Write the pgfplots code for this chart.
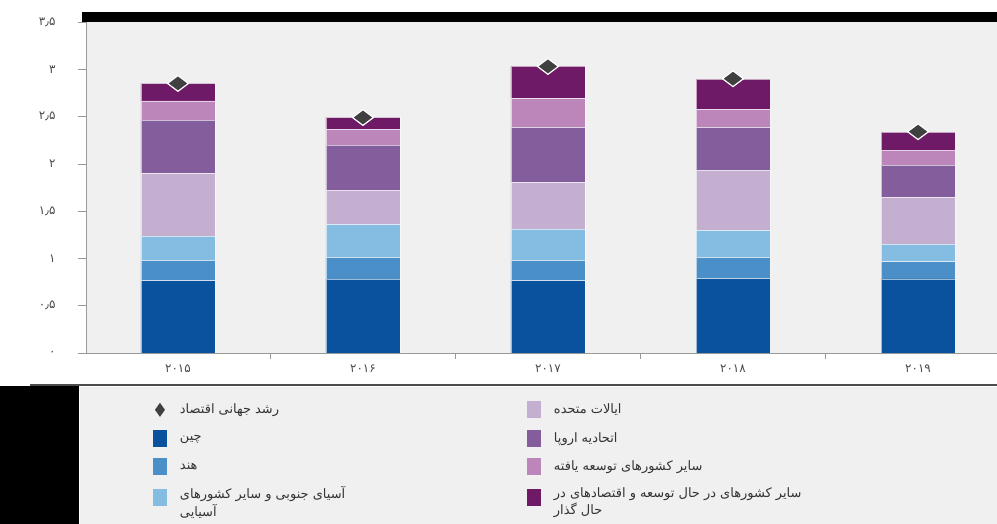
\documentclass[border=0pt]{standalone}
\usepackage{fontspec}
\usepackage{pgfplots}
\usepackage{pgfplotstable}
\pgfplotsset{compat=1.18}
\newfontfamily\arabicfont[Script=Arabic]{DejaVu Sans}
\TeXXeTstate=1

\definecolor{cChina}{HTML}{0A529E}
\definecolor{cIndia}{HTML}{4A8FC8}
\definecolor{cSAsia}{HTML}{85BCE2}
\definecolor{cUS}{HTML}{C4AFD0}
\definecolor{cEU}{HTML}{845E9C}
\definecolor{cOD}{HTML}{BC86BB}
\definecolor{cEMDE}{HTML}{6F1A66}
\definecolor{cDia}{HTML}{404040}
\definecolor{cBg}{HTML}{F0F0F0}

\pgfplotstableread{
x china india sasia us eu od emde world
0 0.764 0.216 0.257 0.663 0.563 0.204 0.184 2.85
1 0.782 0.230 0.348 0.363 0.476 0.166 0.127 2.49
2 0.764 0.216 0.331 0.493 0.582 0.306 0.342 3.03
3 0.790 0.222 0.285 0.637 0.452 0.190 0.320 2.90
4 0.785 0.180 0.187 0.494 0.341 0.159 0.190 2.34
}\data

\pgfplotsset{
  legsq/.style={legend image code/.code={\fill[fill=#1, draw=none] (0bp,-8.5bp) rectangle (14bp,8.5bp);}},
  seg/.style={fill=#1, draw=white, draw opacity=0.6, line width=0.5bp, legsq=#1},
  common/.style={
    scale only axis, width=911bp, height=331bp,
    at={(86bp,171bp)}, anchor=south west,
    xmin=-0.497, xmax=4.427, ymin=0, ymax=3.5,
  }
}

\begin{document}
\begin{tikzpicture}[x=1bp,y=1bp]
\useasboundingbox (0,0) rectangle (997,524);
\fill[white] (0,0) rectangle (997,524);
\fill[cBg] (80,0) rectangle (997,137);
\fill[black] (0,0) rectangle (79,138);
\draw[black!70, line width=2bp] (30,139) -- (997,139);
\fill[black] (82,502) rectangle (997,512);

\begin{axis}[common,
  ybar stacked, bar width=74bp,
  axis background/.style={fill=cBg},
  axis x line*=bottom, axis y line*=left,
  x axis line style={-, draw=black!40, line width=0.8bp},
  y axis line style={-, draw=black!40, line width=0.8bp},
  ytick={0,0.5,1,1.5,2,2.5,3,3.5},
  yticklabels={۰,۰٫۵,۱,۱٫۵,۲,۲٫۵,۳,۳٫۵},
  xtick={0,1,2,3,4},
  xticklabels={۲۰۱۵,۲۰۱۶,۲۰۱۷,۲۰۱۸,۲۰۱۹},
  minor xtick={0.5,1.5,2.5,3.5},
  tick align=outside, major tick length=8bp, minor tick length=6bp,
  tick style={black!40, line width=0.6bp},
  major x tick style={draw=none},
  ticklabel style={font=\arabicfont\fontsize{12}{13}\selectfont, text=black!70},
  yticklabel style={xshift=-19bp},
  legend cell align=left,
  legend columns=4, transpose legend,
  legend style={at={(axis description cs:0.0735,-0.146)}, anchor=north west,
    draw=none, fill=none, inner sep=0pt, outer sep=0pt,
    nodes={inner sep=0pt},
    font=\arabicfont\fontsize{13}{15}\selectfont, text=black!80,
    column sep=13bp, row sep=11.5bp,
    /tikz/every even column/.append style={column sep=17bp}},
]
\addlegendimage{legend image code/.code={\path[draw=none,fill=none] (0bp,-8.5bp) rectangle (14bp,8.5bp); \fill[cDia, draw=none] (7bp,7bp) -- (12bp,0bp) -- (7bp,-7bp) -- (2bp,0bp) -- cycle;}}
\addlegendentry{\makebox[330bp][l]{\beginR رشد جهانی اقتصاد\endR}}
\addplot[seg=cChina] table[x=x,y=china]{\data};
\addlegendentry{\beginR چین\endR}
\addplot[seg=cIndia] table[x=x,y=india]{\data};
\addlegendentry{\beginR هند\endR}
\addplot[seg=cSAsia] table[x=x,y=sasia]{\data};
\addlegendentry{\begin{tabular}{@{}l@{}}\beginR آسیای جنوبی و سایر کشورهای\endR\\[1bp]\beginR آسیایی\endR\end{tabular}}
\addplot[seg=cUS] table[x=x,y=us]{\data};
\addlegendentry{\beginR ایالات متحده\endR}
\addplot[seg=cEU] table[x=x,y=eu]{\data};
\addlegendentry{\beginR اتحادیه اروپا\endR}
\addplot[seg=cOD] table[x=x,y=od]{\data};
\addlegendentry{\beginR سایر کشورهای توسعه یافته\endR}
\addplot[seg=cEMDE] table[x=x,y=emde]{\data};
\addlegendentry{\begin{tabular}{@{}l@{}}\beginR سایر کشورهای در حال توسعه و اقتصادهای در\endR\\[1bp]\beginR حال گذار\endR\end{tabular}}
\end{axis}

\begin{axis}[common, hide axis, clip=false]
\addplot[only marks, mark=diamond*, mark size=10.5bp,
  mark options={rotate=90, fill=cDia, draw=white, line width=1.2bp}]
  table[x=x,y=world]{\data};
\end{axis}
\end{tikzpicture}
\end{document}
